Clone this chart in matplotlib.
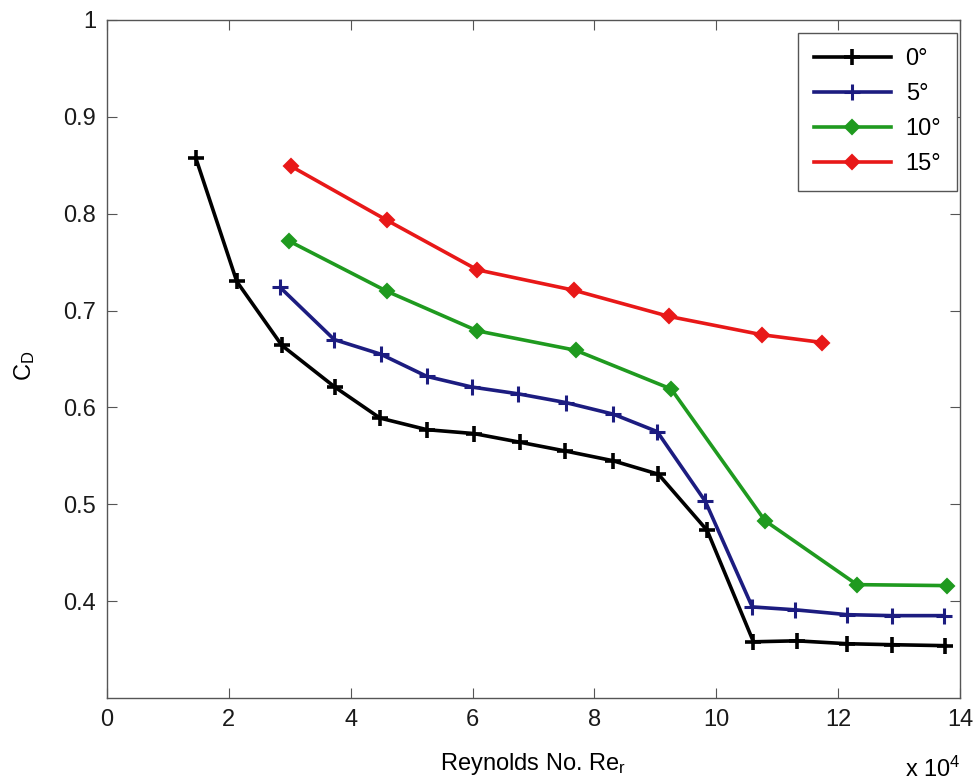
import numpy as np
import matplotlib
matplotlib.use("Agg")
import matplotlib.pyplot as plt

plt.rcParams['font.family'] = ['Liberation Sans', 'DejaVu Sans']
plt.rcParams['mathtext.fontset'] = 'custom'
plt.rcParams['mathtext.rm'] = 'Liberation Sans'
plt.rcParams['mathtext.it'] = 'Liberation Sans'

# Reynolds number in units of 1e4, drag coefficient
re_0 = [1.46, 2.13, 2.87, 3.74, 4.48, 5.25, 6.02, 6.78, 7.52, 8.30, 9.05, 9.85, 10.61, 11.32, 12.15, 12.88, 13.76]
cd_0 = [0.857, 0.730, 0.664, 0.621, 0.589, 0.577, 0.573, 0.564, 0.555, 0.545, 0.531, 0.473, 0.358, 0.359, 0.356, 0.355, 0.354]

re_5 = [2.84, 3.73, 4.49, 5.25, 5.99, 6.75, 7.53, 8.31, 9.03, 9.82, 10.59, 11.30, 12.15, 12.88, 13.73]
cd_5 = [0.724, 0.670, 0.655, 0.632, 0.621, 0.614, 0.605, 0.593, 0.575, 0.503, 0.394, 0.391, 0.386, 0.385, 0.385]

re_10 = [2.98, 4.59, 6.08, 7.69, 9.26, 10.80, 12.31, 13.79]
cd_10 = [0.772, 0.720, 0.679, 0.659, 0.619, 0.483, 0.417, 0.416]

re_15 = [3.02, 4.60, 6.08, 7.66, 9.22, 10.75, 11.74]
cd_15 = [0.849, 0.793, 0.742, 0.721, 0.694, 0.675, 0.667]

labels = ["0°", "5°", "10°", "15°"]

fig = plt.figure(figsize=(9.78, 7.83), dpi=100)
ax = fig.add_axes([0.1094, 0.1086, 0.8722, 0.8659])

ax.plot(re_0, cd_0, color='black', lw=2.6, marker='+', ms=12, mew=2.6, label=labels[0])
ax.plot(re_5, cd_5, color='#1c1c80', lw=2.6, marker='+', ms=12, mew=2.2, label=labels[1])
ax.plot(re_10, cd_10, color='#1f9a1f', lw=2.6, marker='D', ms=7, mew=1.5, label=labels[2])
ax.plot(re_15, cd_15, color='#e81818', lw=2.6, marker='D', ms=7, mew=1.5, label=labels[3])

ax.set_xlim(0, 14)
ax.set_ylim(0.3, 1)
ax.set_xticks(np.arange(0, 15, 2))
ax.set_yticks([0.4, 0.5, 0.6, 0.7, 0.8, 0.9, 1])
ax.set_yticklabels(["0.4", "0.5", "0.6", "0.7", "0.8", "0.9", "1"])
ax.tick_params(direction='in', length=7, width=0.8, top=True, right=True,
               labelsize=17, colors='#555555', labelcolor='#1a1a1a', pad=8)
for s in ax.spines.values():
    s.set_color('#555555')
    s.set_linewidth(1.0)

ax.set_xlabel("Reynolds No. Re$_\\mathrm{r}$", fontsize=17)
ax.xaxis.set_label_coords(0.5, -0.078)
ax.set_ylabel("C$_\\mathrm{D}$", fontsize=17)
ax.yaxis.set_label_coords(-0.082, 0.49)
fig.text(0.925, 0.008, "x 10$^\\mathrm{4}$", fontsize=17)

leg = ax.legend(loc='upper right', bbox_to_anchor=(0.996, 0.981), borderaxespad=0,
                fontsize=17, fancybox=False, framealpha=1, edgecolor='#555555',
                handlelength=3.3, handletextpad=0.6, labelspacing=0.55, borderpad=0.65)
leg.get_frame().set_linewidth(1.0)

fig.savefig("out.png", dpi=100)
